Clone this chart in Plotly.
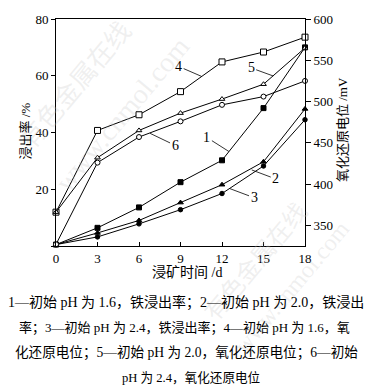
import plotly.graph_objects as go

# ---- data ----
days = [0, 3, 6, 9, 12, 15, 18]
fe_ph16 = [0.5, 6.4, 13.6, 22.5, 30.2, 48.6, 70.0]
fe_ph20 = [0.5, 4.6, 9.0, 15.3, 21.6, 29.7, 48.3]
fe_ph24 = [0.5, 3.2, 7.8, 12.8, 18.5, 28.2, 44.5]
orp_ph16 = [366, 465, 484, 512, 548, 560, 578]
orp_ph20 = [366, 432, 465, 486, 503, 521, 565]
orp_ph24 = [327, 426, 457, 476, 496, 506, 525]

x_ticks = [0, 3, 6, 9, 12, 15, 18]
y_ticks = [0, 20, 40, 60, 80]
y_ticktext = ["", "20", "40", "60", "80"]
y2_ticks = [350, 400, 450, 500, 550, 600]

caption_lines = [
    "1—初始 pH 为 1.6，铁浸出率；2—初始 pH 为 2.0，铁浸出",
    "率；3—初始 pH 为 2.4，铁浸出率；4—初始 pH 为 1.6，氧",
    "化还原电位；5—初始 pH 为 2.0，氧化还原电位；6—初始",
    "pH 为 2.4，氧化还原电位",
]

FONT = "Liberation Serif, Noto Sans CJK SC"

fig = go.Figure()

def add(y, symbol, size, fill, axis):
    fig.add_trace(go.Scatter(
        x=days, y=y, mode="lines+markers", yaxis=axis,
        line=dict(color="black", width=1),
        marker=dict(symbol=symbol, size=size, color=fill,
                    line=dict(color="black", width=1)),
        cliponaxis=False, showlegend=False, hoverinfo="skip"))

add(orp_ph16, "square", 6, "white", "y2")
add(orp_ph20, "triangle-up", 5, "white", "y2")
add(orp_ph24, "circle", 5, "white", "y2")
add(fe_ph16, "square", 5, "black", "y")
add(fe_ph20, "triangle-up", 5, "black", "y")
add(fe_ph24, "circle", 4.5, "black", "y")


def px_x(px):
    return (px - 56) / 249.0


def px_y(py):
    return (246 - py) / 232.0


annotations = []
# faint watermark (drawn first, underneath the other texts)
wm = [
    ("有色金属在线", 76, 82, 26),
    ("www.cnmol.com", 122, 112, 28),
    ("有色金属在线", 256, 262, 24),
    ("www.cnmol.com", 292, 288, 24),
]
for t, cx, cy, s in wm:
    annotations.append(dict(text=t, x=px_x(cx), y=px_y(cy), xref="paper", yref="paper",
                            showarrow=False, textangle=-50, xanchor="center", yanchor="middle",
                            font=dict(family=FONT, size=s, color="rgba(200,200,200,0.28)")))

# curve labels with leader lines
labels = [
    ("1", 12.5, 33.3, "y", -22, -14),
    ("2", 14.15, 26.8, "y", 24, 9),
    ("3", 12.58, 20.2, "y", 24, 9),
    ("4", 10.53, 530.4, "y2", -23, -10),
    ("5", 15.7, 531.0, "y2", -22, -8),
    ("6", 6.8, 461.5, "y2", 25, 12),
]
for t, x, y, yr, ax, ay in labels:
    annotations.append(dict(
        text=t, x=x, y=y, xref="x", yref=yr, ax=ax, ay=ay,
        showarrow=True, arrowhead=0, arrowwidth=0.8, arrowcolor="black",
        standoff=0, startstandoff=0,
        font=dict(family=FONT, size=14, color="black")))

# axis titles
annotations.append(dict(text="浸出率 /%", x=px_x(26), y=px_y(129), xref="paper", yref="paper",
                        showarrow=False, textangle=-90, xanchor="center", yanchor="middle",
                        font=dict(family=FONT, size=13, color="black")))
annotations.append(dict(text="氧化还原电位 /mV", x=px_x(342), y=px_y(127.5),
                        xref="paper", yref="paper", showarrow=False, textangle=-90,
                        xanchor="center", yanchor="middle",
                        font=dict(family=FONT, size=13, color="black")))
annotations.append(dict(text="浸矿时间 /d", x=px_x(187), y=px_y(273),
                        xref="paper", yref="paper", showarrow=False,
                        xanchor="center", yanchor="middle",
                        font=dict(family=FONT, size=14, color="black")))

# caption
cap_y = [304, 329.5, 355, 380.5]
cap_x = [185.5, 184, 186, 191.5]
cap_size = [14, 13, 13.6, 12.6]
for line, cy, cx, cs in zip(caption_lines, cap_y, cap_x, cap_size):
    annotations.append(dict(text=line, x=px_x(cx), y=px_y(cy), xref="paper", yref="paper",
                            showarrow=False, xanchor="center", yanchor="middle",
                            font=dict(family=FONT, size=cs, color="black")))

axis_font = dict(family=FONT, size=13, color="black")
fig.update_layout(
    width=371, height=391, autosize=False,
    margin=dict(l=56, r=66, t=14, b=145, pad=0),
    paper_bgcolor="white", plot_bgcolor="white",
    font=dict(family=FONT, color="black"),
    xaxis=dict(range=[0, 18], tickvals=x_ticks, ticks="inside", ticklen=4,
               tickwidth=1, tickcolor="black", showline=True, linecolor="black",
               linewidth=1, mirror=True, showgrid=False, zeroline=False,
               tickfont=axis_font),
    yaxis=dict(range=[0, 80], tickvals=y_ticks, ticktext=y_ticktext, ticks="outside",
               ticklen=4, tickwidth=1, tickcolor="black", showline=True,
               linecolor="black", linewidth=1, showgrid=False, zeroline=False,
               tickfont=axis_font),
    yaxis2=dict(range=[325, 600], tickvals=y2_ticks, ticks="outside", ticklen=5,
                tickwidth=1, tickcolor="black", showline=True, linecolor="black",
                linewidth=1, showgrid=False, zeroline=False, overlaying="y",
                side="right", tickfont=axis_font),
    annotations=annotations,
)

fig.write_html("out.html")
